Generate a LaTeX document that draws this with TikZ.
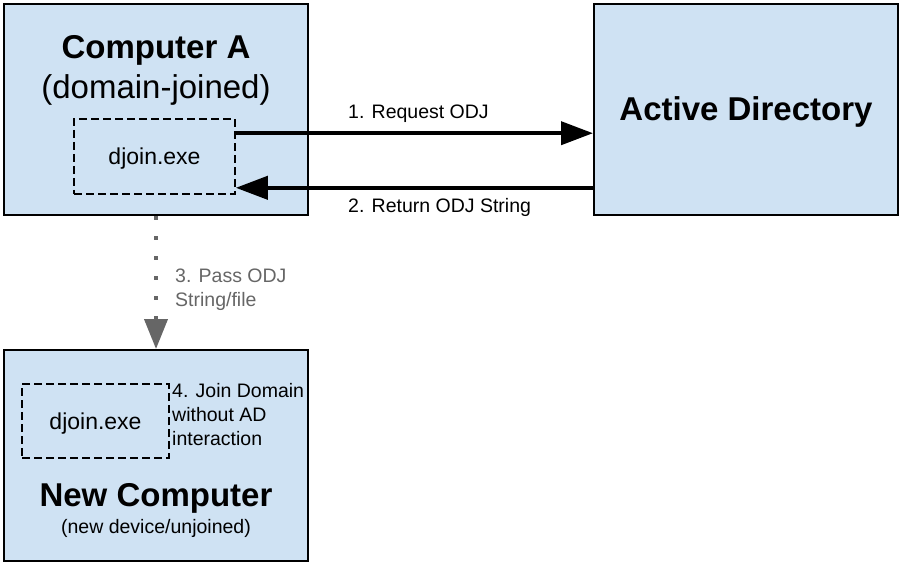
\documentclass[tikz,border=0pt]{standalone}
\usepackage{fontspec}
\setmainfont{Liberation Sans}
\usetikzlibrary{arrows.meta,positioning}
\definecolor{boxblue}{HTML}{CFE2F3}
\definecolor{passgray}{HTML}{666666}

\begin{document}
\begin{tikzpicture}[x=1pt,y=-1pt,
    machine/.style={draw,line width=2pt,fill=boxblue,minimum width=304pt,minimum height=211pt,inner sep=0pt},
    exebox/.style={draw,line width=1.6pt,dash pattern=on 8pt off 4pt,text depth=0pt,font=\fontsize{23}{28}\selectfont},
    big/.style={anchor=base,font=\fontsize{33}{40}\selectfont},
    title/.style={big,font=\fontsize{33}{40}\selectfont\bfseries},
    msg/.style={anchor=base west,align=left,inner sep=0pt,font=\fontsize{19.5}{24}\selectfont},
    call/.style={line width=4pt,-{Triangle[length=32pt,width=23pt]}},
    pass/.style={line width=4pt,passgray,dash pattern=on 4pt off 16pt,-{Triangle[length=30pt,width=23pt]}}]
      \useasboundingbox (0,0) rectangle (905,567);
      \node[machine] (compA) at (156,109.5) {};
      \node[machine] (ad) at (746,109.5) {};
      \node[machine] (newpc) at (156,455.5) {};
      \node[exebox,minimum width=161pt,minimum height=75pt] (djoinA) at (154.5,156.5) {djoin.exe};
      \node[exebox,minimum width=147pt,minimum height=74pt] (djoinN) at (95.5,421) {djoin.exe};
      \node[title] (compAname) at (156,59) {Computer A};
      \node[big] (compAstate) at (156,99) {(domain-joined)};
      \node[title] (adname) at (746,121) {Active Directory};
      \node[title] (newpcname) at (156,506) {New Computer};
      \node[msg,anchor=base] (newpcstate) at (156,533) {(new device/unjoined)};
      \draw[call] ([yshift=-15pt]djoinA.north east) -- ([yshift=-15pt]djoinA.north east -| ad.west);
      \draw[call] ([yshift=7pt]djoinA.south east -| ad.west) -- ([yshift=7pt]djoinA.south east);
      \draw[pass] (compA.south) -- (newpc.north);
      \node[msg] (reqlabel) at (348,119) {1. Request ODJ};
      \node[msg] (retlabel) at (348,212) {2. Return ODJ String};
      \node[msg,passgray] (passlabel) at (175,306) {3. Pass ODJ\\String/file};
      \node[msg] (joinlabel) at (172,445) {4. Join Domain\\without AD\\interaction};
    \end{tikzpicture}
\end{document}
